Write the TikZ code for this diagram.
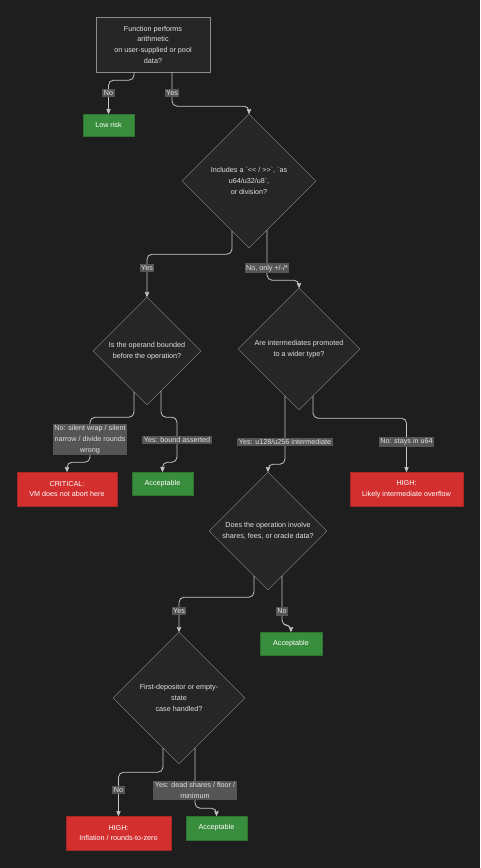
\documentclass[tikz,border=0pt]{standalone}
\usepackage{fontspec}
\setmainfont{Liberation Sans}
\usetikzlibrary{arrows,calc,positioning,shapes}
\definecolor{bgdark}{HTML}{1E1E1E}
\definecolor{nodefill}{HTML}{262626}
\definecolor{bordergray}{HTML}{8C8C8C}
\definecolor{edgegray}{HTML}{C4C4C4}
\definecolor{lblfill}{HTML}{555555}
\definecolor{textlight}{HTML}{E2E2E2}
\definecolor{riskred}{HTML}{D32F2F}
\definecolor{okgreen}{HTML}{388E3C}
\tikzset{
chart/.style={x=1pt,y=-1pt,font=\fontsize{7.2}{10.7}\selectfont},
flow/.style={>=stealth',->,draw=edgegray,line width=0.8pt,rounded corners=5pt},
startbox/.style={rectangle,draw=bordergray,fill=nodefill,text=textlight,align=center,
minimum width=114pt,minimum height=55pt,inner sep=2pt},
decision/.style={diamond,aspect=1,draw=bordergray,fill=nodefill,text=textlight,
align=center,inner sep=0pt},
okbox/.style={rectangle,fill=okgreen,draw=okgreen!80!black,text=white,align=center,
minimum height=23pt,inner sep=2pt},
riskbox/.style={rectangle,fill=riskred,draw=riskred!80!black,text=white,align=center,
minimum height=34pt,inner sep=2pt},
lbl/.style={rectangle,sharp corners,fill=lblfill,text=textlight,align=center,inner sep=1.5pt},
}
\begin{document}
\begin{tikzpicture}[chart]
\fill[bgdark] (0,0) rectangle (480,868);

% questions
\node[startbox] (start) at (153,44.5) {Function performs\\arithmetic\\on user-supplied or pool\\data?};
\node[decision,minimum size=134pt] (d1) at (249,181)
  {Includes a \textasciigrave{<}{<} / {>}{>}\textasciigrave, \textasciigrave as\\u64/u32/u8\textasciigrave,\\or division?};
\node[decision,minimum size=108pt] (d2) at (147,351) {Is the operand bounded\\before the operation?};
\node[decision,minimum size=122pt] (d3) at (299,349) {Are intermediates promoted\\to a wider type?};
\node[decision,minimum size=118pt] (d4) at (268,531) {Does the operation involve\\shares, fees, or oracle data?};
\node[decision,minimum size=132pt] (d5) at (179,698) {First-depositor or empty-\\state\\case handled?};

% outcomes
\node[okbox,minimum width=51pt,minimum height=22pt] (low) at (108.5,125) {Low risk};
\node[riskbox,minimum width=100pt] (crit) at (67,489) {CRITICAL:\\VM does not abort here};
\node[okbox,minimum width=61pt] (acc1) at (162.5,483.5) {Acceptable};
\node[riskbox,minimum width=113pt] (high1) at (406.5,489) {HIGH:\\Likely intermediate overflow};
\node[okbox,minimum width=62pt] (acc2) at (291,643.5) {Acceptable};
\node[riskbox,minimum width=105pt] (high2) at (118.5,833) {HIGH:\\Inflation / rounds-to-zero};
\node[okbox,minimum width=61pt,minimum height=24pt] (acc3) at (216.5,828) {Acceptable};

% connectors
\draw[flow] ([xshift=-19pt]start.south) -- ++(0,8) -| node[lbl,pos=0.69]{No} (low.north);
\draw[flow] ([xshift=19pt]start.south) -- node[lbl,pos=0.62]{Yes} ++(0,34) -| (d1.north);
\draw[flow] ($(d1.south)+(-17,-17)$) -- ++(0,23) -| node[lbl,pos=0.66]{Yes} (d2.north);
\draw[flow] ($(d1.south)+(18,-18)$) -- node[lbl,pos=0.76]{No, only +/-/*} ++(0,50) -| (d3.north);
\draw[flow] ($(d2.south)+(-13,-13)$) -- ++(0,25) -- ++(-44,0)
  -- node[lbl]{No: silent wrap / silent\\narrow / divide rounds\\wrong} ++(0,45) -| (crit.north);
\draw[flow] ($(d2.south)+(14,-14)$) -- ++(0,26) -- ++(16,0)
  -- node[lbl]{Yes: bound asserted} ++(0,45) -| (acc1.north);
\draw[flow] ($(d3.south)+(-14,-14)$) -- node[lbl,pos=0.67]{Yes: u128/u256 intermediate} ++(0,68) -| (d4.north);
\draw[flow] ($(d3.south)+(14,-14)$) -- ++(0,22) -| node[lbl,pos=0.72]{No: stays in u64} (high1.north);
\draw[flow] ($(d4.south)+(-14,-14)$) -- ++(0,21) -| node[lbl,pos=0.7]{Yes} (d5.north);
\draw[flow] ($(d4.south)+(14,-14)$) -- node[lbl,pos=0.72]{No} ++(0,49) -| (acc2.north);
\draw[flow] ($(d5.south)+(-16,-16)$) -- ++(0,24) -| node[lbl,pos=0.7]{No} (high2.north);
\draw[flow] ($(d5.south)+(16,-16)$) -- node[lbl,pos=0.7]{Yes: dead shares / floor /\\minimum} ++(0,60) -| (acc3.north);
\end{tikzpicture}
\end{document}
